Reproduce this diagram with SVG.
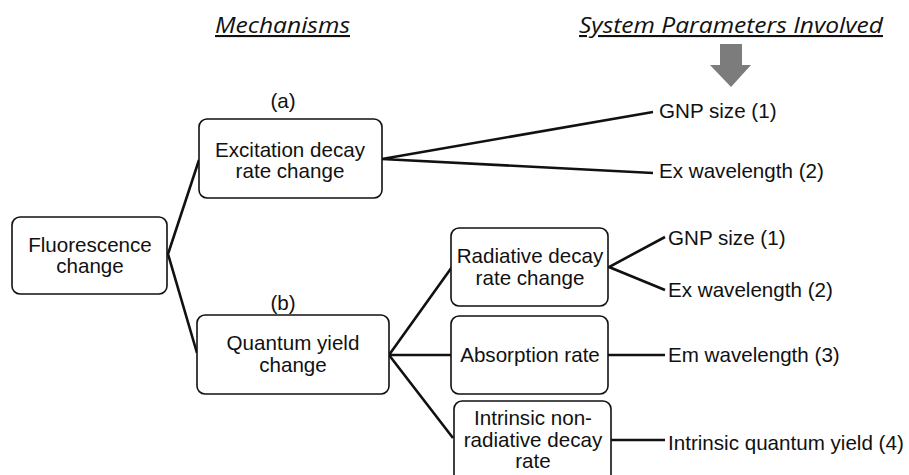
<svg xmlns="http://www.w3.org/2000/svg" width="909" height="475" viewBox="0 0 909 475">
<style>
.box{fill:#fff;stroke:#111;stroke-width:1.6}
.t{font-family:"Liberation Sans",Arial,sans-serif;font-size:20.6px;fill:#111}
.c{text-anchor:middle}
.h{font-family:"Open Sans","Liberation Sans",sans-serif;font-style:italic;font-size:21px;fill:#111;text-decoration:underline}
.ln{stroke:#111;stroke-width:2.6;fill:none}
</style>
<rect width="909" height="475" fill="#fff"/>
<text class="h" x="215" y="33" textLength="135" lengthAdjust="spacingAndGlyphs">Mechanisms</text>
<text class="h" x="579" y="33" textLength="304" lengthAdjust="spacingAndGlyphs">System Parameters Involved</text>
<polygon points="720,44 742,44 742,65 751,65 731,87 710,65 720,65" fill="#7c7c7c"/>
<text class="t c" x="283" y="108">(a)</text>
<text class="t c" x="283" y="310">(b)</text>
<g id="connectors">
<polyline class="ln" points="199,160 168,254 197,353"/>
<polyline class="ln" points="653,112 382,159 653,173"/>
<polyline class="ln" points="452,267 389,355 453,438"/>
<line class="ln" x1="389" y1="355" x2="452" y2="355"/>
<polyline class="ln" points="665,237 609,267 665,290"/>
<line class="ln" x1="608" y1="355" x2="665" y2="355"/>
<line class="ln" x1="611" y1="440" x2="665" y2="440"/>
</g>
<g id="fluorescence">
<rect class="box" x="12" y="217" width="155" height="77" rx="8"/>
<text class="t c" x="90" y="252">Fluorescence</text>
<text class="t c" x="90" y="273">change</text>
</g>
<g id="excitation">
<rect class="box" x="199" y="119" width="183" height="79" rx="8"/>
<text class="t c" x="290" y="157">Excitation decay</text>
<text class="t c" x="290" y="178">rate change</text>
</g>
<g id="quantum">
<rect class="box" x="197" y="315" width="192" height="79" rx="8"/>
<text class="t c" x="293" y="350">Quantum yield</text>
<text class="t c" x="293" y="372">change</text>
</g>
<g id="radiative">
<rect class="box" x="451" y="228" width="157" height="78" rx="8"/>
<text class="t c" x="530" y="263">Radiative decay</text>
<text class="t c" x="530" y="285">rate change</text>
</g>
<g id="absorption">
<rect class="box" x="451" y="316" width="157" height="78" rx="8"/>
<text class="t c" x="530" y="362">Absorption rate</text>
</g>
<g id="intrinsic">
<rect class="box" x="454" y="401" width="157" height="85" rx="8"/>
<text class="t c" x="533" y="425">Intrinsic non-</text>
<text class="t c" x="533" y="447">radiative decay</text>
<text class="t c" x="533" y="468">rate</text>
</g>
<g id="p-gnp1"><text class="t" x="659" y="118">GNP size (1)</text></g>
<g id="p-ex1"><text class="t" x="659" y="178">Ex wavelength (2)</text></g>
<g id="p-gnp2"><text class="t" x="668" y="245">GNP size (1)</text></g>
<g id="p-ex2"><text class="t" x="668" y="297">Ex wavelength (2)</text></g>
<g id="p-em"><text class="t" x="668" y="362">Em wavelength (3)</text></g>
<g id="p-iqy"><text class="t" x="668" y="450">Intrinsic quantum yield (4)</text></g>
</svg>
